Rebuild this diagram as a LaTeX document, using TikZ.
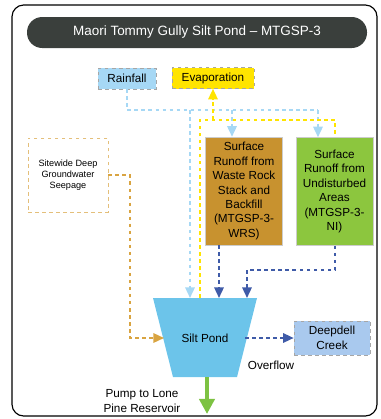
\documentclass[tikz,border=0pt]{standalone}
\usepackage{fontspec}
\setmainfont{Liberation Sans}
\usetikzlibrary{arrows.meta}
\definecolor{barcol}{HTML}{3A3F3C}
\definecolor{raincol}{HTML}{A6D8F5}
\definecolor{evapcol}{HTML}{FFE400}
\definecolor{wrscol}{HTML}{C8922F}
\definecolor{nicol}{HTML}{8CC63E}
\definecolor{pondcol}{HTML}{6CC4EA}
\definecolor{creekcol}{HTML}{A9C9EE}
\definecolor{darkflow}{HTML}{3F5BA8}
\definecolor{seepcol}{HTML}{D9A441}
\definecolor{pumpcol}{HTML}{7DC242}
\tikzset{
  srcbox/.style={draw=gray!70, dashed, line width=0.5pt, inner sep=3pt, minimum height=0.63cm, font=\fontsize{10}{12.3}\selectfont},
  runbox/.style={draw=gray!40, line width=0.4pt, minimum width=2.32cm, minimum height=3.24cm, align=center, font=\fontsize{10}{12.3}\selectfont},
  flow/.style={line width=1.6pt, dash pattern=on 3pt off 3pt},
  tip/.style={-{Triangle[length=9pt,width=8pt]}}
}
\begin{document}
\begin{tikzpicture}[x=0.03cm, y=-0.03cm]
          \useasboundingbox (0,0) rectangle (380,419);
          \draw[line width=1pt, rounded corners=10pt] (12,5) rectangle (377,416);
          \fill[barcol, rounded corners=13pt] (27,17) rectangle (367,48);
          \node[white, font=\fontsize{11.5}{13}\selectfont] (title) at (197,32.5) {Maori Tommy Gully Silt Pond -- MTGSP-3};
          % sources along the top
          \node[srcbox, fill=raincol, minimum width=1.74cm] (rain) at (127,78.5) {Rainfall};
          \node[srcbox, fill=evapcol, minimum width=2.46cm] (evap) at (213,78) {Evaporation};
          \node[draw=seepcol!70, dashed, line width=0.6pt, fill=white, minimum width=2.4cm, minimum height=2.22cm, align=center, font=\fontsize{7.8}{9.6}\selectfont] (seep) at (68,175) {Sitewide Deep\\Groundwater\\Seepage};
          \node[runbox, fill=wrscol] (wrs) at (244,191) {Surface\\Runoff from\\Waste Rock\\Stack and\\Backfill\\(MTGSP-3-\\WRS)};
          \node[runbox, fill=nicol] (ni) at (334.5,191.5) {Surface\\Runoff from\\Undisturbed\\Areas\\(MTGSP-3-\\NI)};
          % the pond
          \fill[pondcol] (153,298) coordinate (pondtl) -- (257,298) coordinate (pondtr)
            -- (237,377) coordinate (pondbr) -- (173,377) coordinate (pondbl) -- cycle;
          \node[font=\fontsize{10}{12}\selectfont] (pond) at (205,338) {Silt Pond};
          \node[srcbox, fill=creekcol, minimum width=2.28cm, minimum height=1.02cm, align=center] (creek) at (332,338) {Deepdell\\Creek};
          \node[font=\fontsize{10}{12}\selectfont] (over) at (271,365) {Overflow};
          \node[align=center, font=\fontsize{10}{13}\selectfont] (pump) at (142,401) {Pump to Lone\\Pine Reservoir};
          \coordinate (rainin) at (190,298);
          \coordinate (evapout) at (200,298);
          \coordinate (wrsin) at (219,298);
          \coordinate (niin) at (247,298);
          \coordinate (seepin) at (164,338);
          \coordinate (overout) at (245,338);
          \coordinate (pumpout) at (207,377);
          \coordinate (pumpend) at (207,414);
          % rainfall
          \draw[flow, raincol] (rain.south) -- (127,110) -- (318,110);
          \draw[flow, raincol, tip] (190,110) -- (rainin);
          \draw[flow, raincol, tip] (232,110) -- (wrs.north -| 232,0);
          \draw[flow, raincol, tip] (318,110) -- (ni.north -| 318,0);
          % evaporation
          \draw[flow, evapcol] (evapout) -- (200,120) -- (335,120) -- (ni.north -| 335,0);
          \draw[flow, evapcol, tip] (213,120) -- (evap.south);
          % runoff
          \draw[flow, darkflow, tip] (wrs.south -| wrsin) -- (wrsin);
          \draw[flow, darkflow, tip] (ni.south -| 335,0) -- (335,270) -| (niin);
          % seepage
          \draw[flow, seepcol, tip] (seep.east) -| (130,338) -- (seepin);
          % overflow
          \draw[flow, darkflow, tip] (overout) -- (creek.west);
          \draw[line width=3.2pt, pumpcol, -{Triangle[length=13pt,width=13pt]}] (pumpout) -- (pumpend);
        \end{tikzpicture}
\end{document}
